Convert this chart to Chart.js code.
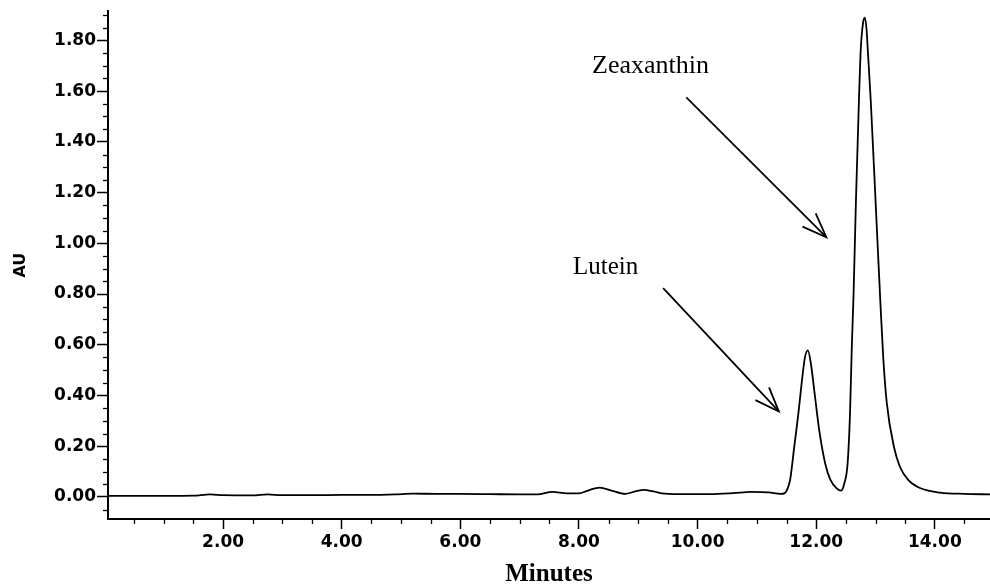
<!DOCTYPE html>
<html><head><meta charset="utf-8">
<script src="https://cdn.jsdelivr.net/npm/chart.js@4.4.1/dist/chart.umd.min.js"></script>
<style>html,body{margin:0;padding:0;background:#fff}canvas{display:block}</style>
</head><body>
<canvas id="c" width="990" height="587"></canvas>
<script>
// ---- data ----
const minutes = [0.06,0.5,1.0,1.5,1.78,2.0,2.5,2.75,3.0,3.5,4.0,4.5,4.9,5.2,5.6,6.0,6.5,7.0,7.3,7.55,7.8,8.0,8.15,8.35,8.55,8.78,8.95,9.1,9.25,9.45,9.8,10.2,10.6,10.9,11.2,11.4,11.47,11.52,11.56,11.63,11.70,11.76,11.81,11.86,11.91,11.98,12.05,12.15,12.24,12.34,12.42,12.47,12.53,12.57,12.60,12.63,12.67,12.72,12.75,12.79,12.82,12.85,12.87,12.92,13.00,13.08,13.13,13.19,13.31,13.41,13.55,13.75,14.09,14.5,14.93];
const absorbance = [0.004,0.004,0.004,0.005,0.010,0.007,0.006,0.010,0.007,0.007,0.008,0.008,0.010,0.013,0.012,0.012,0.011,0.010,0.010,0.020,0.014,0.014,0.025,0.037,0.025,0.012,0.022,0.028,0.022,0.013,0.011,0.011,0.015,0.020,0.018,0.012,0.015,0.035,0.067,0.198,0.33,0.46,0.55,0.578,0.526,0.395,0.264,0.133,0.067,0.035,0.025,0.05,0.134,0.33,0.59,0.80,1.17,1.56,1.76,1.87,1.89,1.84,1.76,1.56,1.17,0.776,0.55,0.37,0.198,0.12,0.067,0.035,0.017,0.012,0.010];
const xTickValues = [2,4,6,8,10,12,14];
const yTickValues = [0,0.2,0.4,0.6,0.8,1.0,1.2,1.4,1.6,1.8];
const xMinorStep = 0.5;
const yMinorStep = 0.05;
const peakNames = ['Zeaxanthin','Lutein'];
const xTitle = 'Minutes';
const yTitle = 'AU';

// annotation anchors, in data units (minutes, AU)
const annotations = [
  {text: peakNames[0], at: [8.22, 1.670], from: [9.81, 1.575], to: [12.17, 1.024], size: 26},
  {text: peakNames[1], at: [7.90, 0.878], from: [9.42, 0.823], to: [11.37, 0.337], size: 25}
];

const minorTicks = {
  id: 'minorTicks',
  afterDraw(chart) {
    const {ctx, scales: {x, y}, chartArea: a} = chart;
    ctx.save();
    ctx.strokeStyle = '#000';
    ctx.lineWidth = 1.3;
    const isMajor = (v, arr) => arr.some(m => Math.abs(m - v) < 1e-6);
    for (let k = Math.ceil(y.min / yMinorStep); k * yMinorStep <= y.max + 1e-9; k++) {
      const v = k * yMinorStep;
      if (isMajor(v, yTickValues)) continue;
      const p = Math.round(y.getPixelForValue(v)) + 0.5;
      ctx.beginPath(); ctx.moveTo(a.left - 5, p); ctx.lineTo(a.left, p); ctx.stroke();
    }
    for (let k = Math.ceil(x.min / xMinorStep); k * xMinorStep <= x.max + 1e-9; k++) {
      const v = k * xMinorStep;
      if (isMajor(v, xTickValues)) continue;
      const p = Math.round(x.getPixelForValue(v)) + 0.5;
      ctx.beginPath(); ctx.moveTo(p, a.bottom); ctx.lineTo(p, a.bottom + 5); ctx.stroke();
    }
    ctx.restore();
  }
};

const peakLabels = {
  id: 'peakLabels',
  afterDraw(chart) {
    const {ctx, scales: {x, y}} = chart;
    ctx.save();
    ctx.fillStyle = '#000';
    ctx.strokeStyle = '#000';
    ctx.lineWidth = 1.8;
    ctx.textBaseline = 'alphabetic';
    ctx.textAlign = 'left';
    annotations.forEach(an => {
      ctx.font = an.size + 'px "Liberation Serif", "Times New Roman", serif';
      ctx.fillText(an.text, x.getPixelForValue(an.at[0]), y.getPixelForValue(an.at[1]));
      const x1 = x.getPixelForValue(an.from[0]), y1 = y.getPixelForValue(an.from[1]);
      const x2 = x.getPixelForValue(an.to[0]), y2 = y.getPixelForValue(an.to[1]);
      ctx.beginPath(); ctx.moveTo(x1, y1); ctx.lineTo(x2, y2); ctx.stroke();
      const ang = Math.atan2(y1 - y2, x1 - x2);
      const len = 26, spread = 21 * Math.PI / 180;
      ctx.beginPath();
      ctx.moveTo(x2 + len * Math.cos(ang - spread), y2 + len * Math.sin(ang - spread));
      ctx.lineTo(x2, y2);
      ctx.lineTo(x2 + len * Math.cos(ang + spread), y2 + len * Math.sin(ang + spread));
      ctx.stroke();
    });
    ctx.restore();
  }
};

const tickFont = {family: '"DejaVu Sans", sans-serif', weight: 'bold', size: 17};

new Chart(document.getElementById('c'), {
  type: 'scatter',
  data: {
    datasets: [{
      data: minutes.map((t, i) => ({x: t, y: absorbance[i]})),
      showLine: true,
      borderColor: '#000',
      borderWidth: 1.8,
      pointRadius: 0,
      cubicInterpolationMode: 'monotone',
      fill: false
    }]
  },
  options: {
    responsive: false,
    animation: false,
    devicePixelRatio: 1,
    layout: {padding: {top: 11, right: 0, bottom: 0, left: 0}},
    plugins: {legend: {display: false}, tooltip: {enabled: false}},
    scales: {
      x: {
        type: 'linear', position: 'bottom', min: 0.06, max: 14.93,
        afterBuildTicks: s => { s.ticks = xTickValues.map(v => ({value: v})); },
        afterFit: s => { s.height = 68; },
        grid: {drawOnChartArea: false, drawTicks: true, tickLength: 10, tickColor: '#000', tickWidth: 1.5},
        border: {display: true, color: '#000', width: 2},
        ticks: {color: '#000', font: tickFont, padding: 3, maxRotation: 0, autoSkip: false, callback: v => Number(v).toFixed(2)},
        title: {display: true, text: xTitle, color: '#000', font: {family: '"Liberation Serif", serif', weight: 'bold', size: 25, lineHeight: 1}, padding: {top: 0, bottom: 0}}
      },
      y: {
        type: 'linear', position: 'left', min: -0.087, max: 1.915,
        afterBuildTicks: s => { s.ticks = yTickValues.map(v => ({value: v})); },
        afterFit: s => { s.width = 108; },
        grid: {drawOnChartArea: false, drawTicks: true, tickLength: 11, tickColor: '#000', tickWidth: 1.5},
        border: {display: true, color: '#000', width: 2},
        ticks: {color: '#000', font: tickFont, padding: 1, autoSkip: false, callback: v => Number(v).toFixed(2)},
        title: {display: true, text: yTitle, color: '#000', font: {family: '"DejaVu Sans", sans-serif', weight: 'bold', size: 16, lineHeight: 1.2}, padding: {top: 11, bottom: 0}}
      }
    }
  },
  plugins: [minorTicks, peakLabels]
});
</script>
</body></html>
